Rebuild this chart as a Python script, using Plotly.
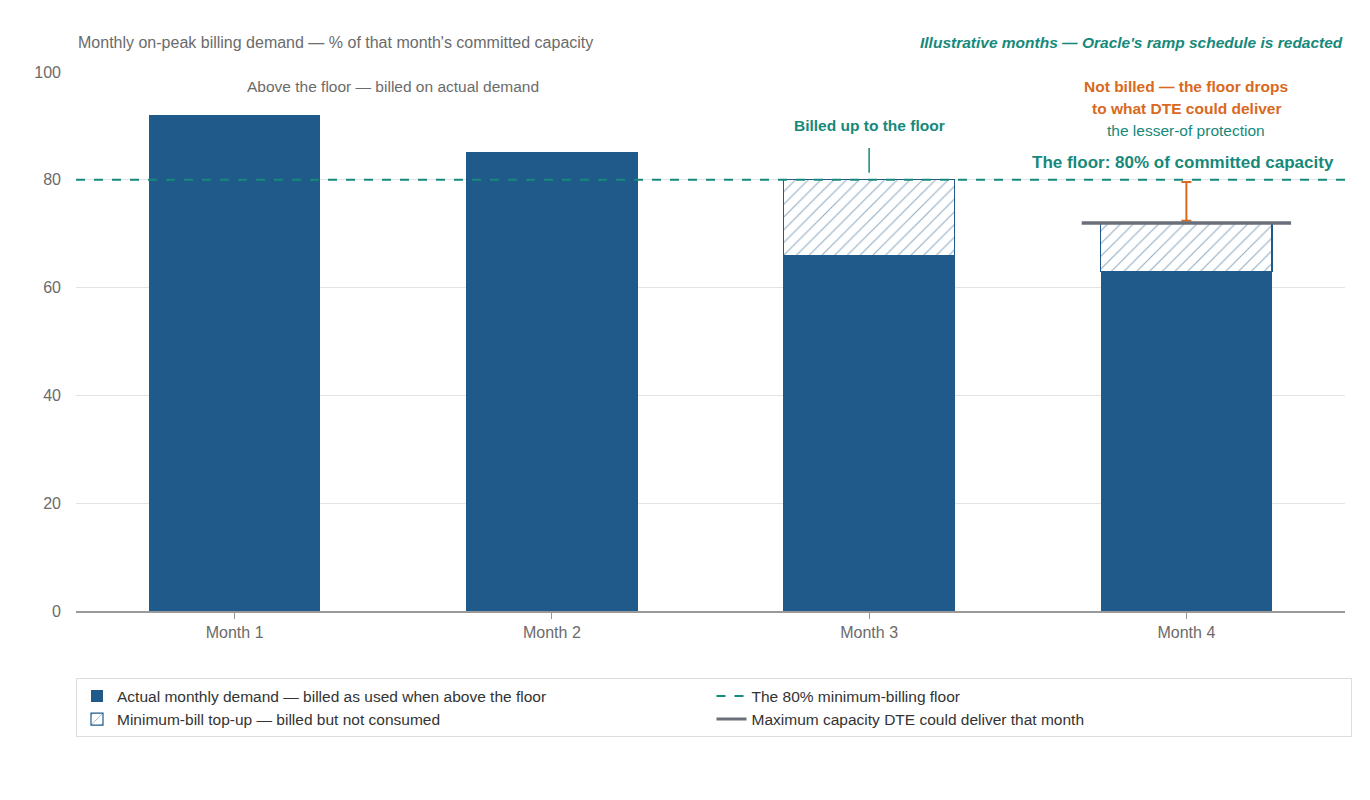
import plotly.graph_objects as go

# Daten
months = ['Month 1', 'Month 2', 'Month 3', 'Month 4']
actual = [92, 85, 66, 63]
topup = [0, 0, 14, 9]
floor_value = 80
cap_month = 3  # Index von Month 4
cap_value = 72

navy = '#1f5a8a'
teal = '#16897a'
orange = '#d9691e'
grey = '#6b6f7a'
font = 'Liberation Sans'

fig = go.Figure()

# Tatsächlicher Bedarf
fig.add_trace(go.Bar(x=months, y=actual, name='Actual monthly demand — billed as used when above the floor',
                     marker=dict(color=navy, line=dict(width=0)), width=0.54))
# Floor (nur Legende)
fig.add_trace(go.Scatter(x=[None], y=[None], mode='lines', name='The 80% minimum-billing floor',
                         line=dict(color=teal, dash='dash', width=2)))
# Aufstockung (schraffiert)
fig.add_trace(go.Bar(x=months, y=topup, name='Minimum-bill top-up — billed but not consumed', width=0.54,
                     marker=dict(color='white', line=dict(color=navy, width=1.2),
                                 pattern=dict(shape='/', fgcolor=navy, bgcolor='white', size=9, solidity=0.12))))
# Maximale Kapazität (nur Legende)
fig.add_trace(go.Scatter(x=[None], y=[None], mode='lines', name='Maximum capacity DTE could deliver that month',
                         line=dict(color=grey, width=3)))
# Lücke zwischen Kapazität und Floor
fig.add_trace(go.Scatter(x=[months[cap_month]], y=[(floor_value + cap_value) / 2], mode='markers',
                         marker=dict(size=1, color='rgba(0,0,0,0)'), showlegend=False, hoverinfo='skip',
                         error_y=dict(type='constant', value=(floor_value - cap_value) / 2 - 0.4,
                                      color=orange, thickness=2, width=5)))

fig.add_hline(y=floor_value, line=dict(color=teal, dash='dash', width=2), layer='above')
fig.add_shape(type='line', x0=cap_month - 0.33, x1=cap_month + 0.33, y0=cap_value, y1=cap_value,
              line=dict(color=grey, width=3.5))
fig.add_shape(type='line', x0=2, x1=2, y0=81.3, y1=85.9, line=dict(color=teal, width=1.5))

# Beschriftungen
fig.add_annotation(x=0, xref='paper', y=1.035, yref='paper', xanchor='left', yanchor='bottom', showarrow=False,
                   text="Monthly on-peak billing demand — % of that month's committed capacity",
                   font=dict(size=16, color='#6b6b6b'))
fig.add_annotation(x=1, xref='paper', y=1.035, yref='paper', xanchor='right', yanchor='bottom', showarrow=False,
                   text="<b><i>Illustrative months — Oracle's ramp schedule is redacted</i></b>",
                   font=dict(size=15.5, color=teal))
fig.add_annotation(x=0.5, y=97.4, showarrow=False, text='Above the floor — billed on actual demand',
                   font=dict(size=15.5, color='#6b6b6b'))
fig.add_annotation(x=2, y=90.1, showarrow=False, text='<b>Billed up to the floor</b>',
                   font=dict(size=15.5, color=teal))
fig.add_annotation(x=3, y=97.4, showarrow=False, text='<b>Not billed — the floor drops</b>',
                   font=dict(size=15.5, color=orange))
fig.add_annotation(x=3, y=93.3, showarrow=False, text='<b>to what DTE could deliver</b>',
                   font=dict(size=15.5, color=orange))
fig.add_annotation(x=3, y=89.2, showarrow=False, text='the lesser-of protection',
                   font=dict(size=15.5, color=teal))
fig.add_annotation(x=0.993, xref='paper', y=83.3, xanchor='right', showarrow=False,
                   text='<b>The floor: 80% of committed capacity</b>', font=dict(size=17, color=teal))

fig.update_layout(
    width=1370, height=800, barmode='stack', bargap=0.46,
    plot_bgcolor='white', paper_bgcolor='white',
    font=dict(family=font, size=15, color='#6b6b6b'),
    margin=dict(l=68, r=33, t=64, b=197),
    showlegend=True,
    legend=dict(orientation='h', x=0, y=-0.125, xanchor='left', yanchor='top',
                entrywidth=0.5, entrywidthmode='fraction', traceorder='normal',
                bordercolor='#dddddd', borderwidth=1, font=dict(size=15.5, color='#333333'),
                tracegroupgap=10, itemwidth=30),
    xaxis=dict(showgrid=False, ticks='outside', ticklen=6, tickcolor='#999', showline=True,
               linecolor='#999', linewidth=1.5, tickfont=dict(size=16, color='#6b6b6b')),
    yaxis=dict(range=[0, 100], dtick=20, gridcolor='#e3e3e3', zeroline=False, ticks='',
               tickfont=dict(size=16, color='#6b6b6b'), ticklabelstandoff=14),
)

fig.write_html('out.html')
